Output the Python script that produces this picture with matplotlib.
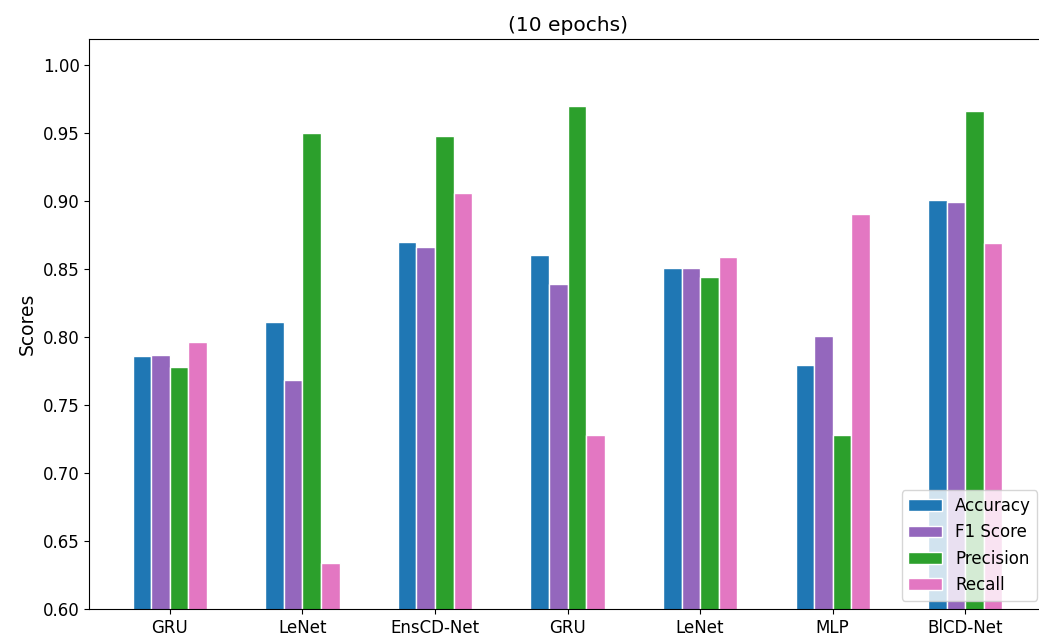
import numpy as np
import matplotlib
matplotlib.use("Agg")
import matplotlib.pyplot as plt

# model names on the x axis
models = ["GRU", "LeNet", "EnsCD-Net", "GRU", "LeNet", "MLP", "BlCD-Net"]

# scores per metric
accuracy = [0.786, 0.811, 0.870, 0.860, 0.851, 0.779, 0.901]
f1_score = [0.787, 0.768, 0.866, 0.839, 0.851, 0.801, 0.899]
precision = [0.778, 0.950, 0.948, 0.970, 0.844, 0.728, 0.966]
recall = [0.796, 0.634, 0.906, 0.728, 0.859, 0.890, 0.869]

metrics = {
    "Accuracy": (accuracy, "tab:blue"),
    "F1 Score": (f1_score, "tab:purple"),
    "Precision": (precision, "tab:green"),
    "Recall": (recall, "tab:pink"),
}

fig = plt.figure(figsize=(10.39, 6.38), dpi=100)
ax = fig.add_axes([89.3 / 1039, 29 / 638, 956.5 / 1039, 570 / 638])

x = np.arange(len(models))
width = 0.14

for i, (name, (vals, color)) in enumerate(metrics.items()):
    ax.bar(x + (i - 1.5) * width, vals, width, label=name, color=color,
           edgecolor="white", linewidth=1)

ax.set_xticks(x)
ax.set_xticklabels(models, fontsize=12)
ax.tick_params(axis="y", labelsize=12)
ax.set_ylim(0.6, 1.019)
ax.set_ylabel("Scores", fontsize=13.5)
ax.set_title("(10 epochs)", fontsize=14.5)
ax.legend(loc="lower right", fontsize=12)

fig.savefig("out.png", dpi=100)
